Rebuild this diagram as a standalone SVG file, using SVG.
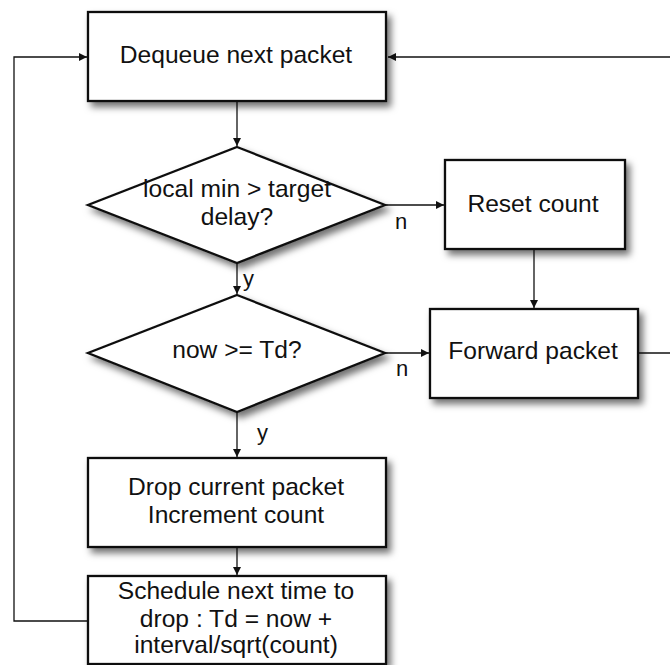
<svg xmlns="http://www.w3.org/2000/svg" width="670" height="665" viewBox="0 0 670 665">
  <style>
    .box { fill: #ffffff; stroke: #111111; stroke-width: 2.3; filter: url(#shadow); }
    .lbl { font-family: "Liberation Sans", Arial, Helvetica, sans-serif; font-size: 24.6px; fill: #111111; text-anchor: middle; }
    .tag { font-family: "Liberation Sans", Arial, Helvetica, sans-serif; font-size: 22px; fill: #111111; }
    .edge { fill: none; stroke: #111111; stroke-width: 1.3; marker-end: url(#arrow); }
    .plain { fill: none; stroke: #111111; stroke-width: 1.3; }
  </style>
  <defs>
    <filter id="shadow" x="-20%" y="-20%" width="150%" height="160%">
      <feDropShadow dx="4" dy="5" stdDeviation="3.5" flood-color="#000000" flood-opacity="0.55"/>
    </filter>
    <marker id="arrow" viewBox="0 0 10 10" refX="10" refY="5" markerWidth="9" markerHeight="8" markerUnits="userSpaceOnUse" orient="auto">
      <path d="M0,0 L10,5 L0,10 z" fill="#111111"/>
    </marker>
  </defs>

  <rect width="670" height="665" fill="#ffffff"/>

  <!-- connectors -->
  <g id="connectors">
    <path class="edge" d="M237,101 V146"/>
    <path class="edge" d="M237,263 V294"/>
    <path class="edge" d="M237,412 V457"/>
    <path class="edge" d="M237,547 V575"/>
    <path class="edge" d="M385,205 H444"/>
    <path class="edge" d="M534,249 V308"/>
    <path class="edge" d="M385,353 H429"/>
    <path class="edge" d="M88,621 H14 V57 H87"/>
    <path class="plain" d="M638,353 H700"/>
    <path class="edge" d="M700,57 H388"/>
  </g>

  <!-- edge labels -->
  <g id="edge-labels">
    <text class="tag" x="243" y="286">y</text>
    <text class="tag" x="257" y="440">y</text>
    <text class="tag" x="395" y="229">n</text>
    <text class="tag" x="396" y="376">n</text>
  </g>

  <g id="dequeue">
    <rect class="box" x="88" y="12" width="298" height="89"/>
    <text class="lbl" x="236" y="63">Dequeue next packet</text>
  </g>

  <g id="check-delay">
    <polygon class="box" points="237,147 385,205 237,263 88,205"/>
    <text class="lbl" x="237" y="197">local min &gt; target</text>
    <text class="lbl" x="237" y="225">delay?</text>
  </g>

  <g id="reset-count">
    <rect class="box" x="445" y="160" width="180" height="89"/>
    <text class="lbl" x="533" y="212">Reset count</text>
  </g>

  <g id="check-time">
    <polygon class="box" points="237,295 385,353 237,412 88,353"/>
    <text class="lbl" x="237" y="358">now &gt;= Td?</text>
  </g>

  <g id="forward">
    <rect class="box" x="430" y="309" width="208" height="89"/>
    <text class="lbl" x="533" y="359">Forward packet</text>
  </g>

  <g id="drop">
    <rect class="box" x="88" y="458" width="298" height="89"/>
    <text class="lbl" x="236" y="495">Drop current packet</text>
    <text class="lbl" x="236" y="523">Increment count</text>
  </g>

  <g id="schedule">
    <rect class="box" x="88" y="576" width="298" height="88"/>
    <text class="lbl" x="236" y="599">Schedule next time to</text>
    <text class="lbl" x="236" y="627">drop : Td = now +</text>
    <text class="lbl" x="236" y="653">interval/sqrt(count)</text>
  </g>
</svg>
